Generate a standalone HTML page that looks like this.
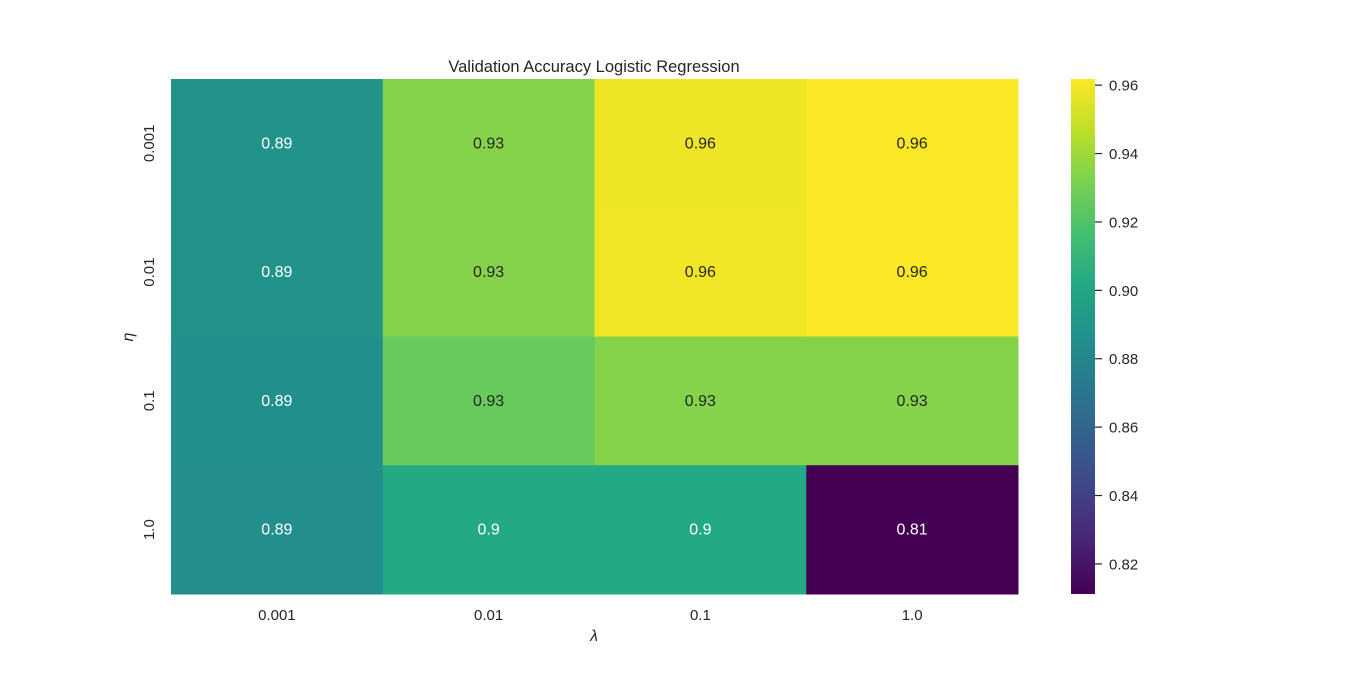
<!DOCTYPE html>
<html><head><meta charset="utf-8"><style>
body{margin:0;background:#fff;}
svg text{font-family:"Liberation Sans",sans-serif;fill:#262626;}
</style></head><body>
<svg id="chart" width="1366" height="669" xmlns="http://www.w3.org/2000/svg">
<defs><linearGradient id="vir" x1="0" y1="1" x2="0" y2="0"></linearGradient></defs>
<text x="594" y="72" text-anchor="middle" font-size="16.5">Validation Accuracy Logistic Regression</text>
<g id="cells"></g><g id="xt"></g><g id="yt"></g><g id="cb"></g>
<text x="594" y="641" text-anchor="middle" font-size="16" font-style="italic">λ</text>
<text x="0" y="0" transform="translate(133,337) rotate(-90)" text-anchor="middle" font-size="16" font-style="italic">η</text>
</svg>
<script>
const xLabels=["0.001","0.01","0.1","1.0"];
const yLabels=["0.001","0.01","0.1","1.0"];
const row0=[0.888,0.934,0.958,0.961];
const row1=[0.888,0.934,0.959,0.961];
const row2=[0.886,0.926,0.934,0.934];
const row3=[0.885,0.902,0.902,0.811];
const cbTicks=[0.82,0.84,0.86,0.88,0.90,0.92,0.94,0.96];
const rows=[row0,row1,row2,row3];
const vmin=0.8112,vmax=0.9618;
const X0=171,X1=1018,Y0=79,Y1=594;
const cw=(X1-X0)/xLabels.length,ch=(Y1-Y0)/yLabels.length;
const stops=["#440154","#482475","#414487","#355f8d","#2a788e","#21918c","#22a884","#44bf70","#7ad151","#bddf26","#fde725"];
function hex(h){return[1,3,5].map(i=>parseInt(h.substr(i,2),16));}
function vir(t){t=Math.max(0,Math.min(1,t))*10;const i=Math.min(9,Math.floor(t)),f=t-i;const a=hex(stops[i]),b=hex(stops[i+1]);return a.map((v,k)=>Math.round(v+(b[k]-v)*f));}
function lum(c){const l=c.map(v=>{v/=255;return v<=0.03928?v/12.92:Math.pow((v+0.055)/1.055,2.4)});return 0.2126*l[0]+0.7152*l[1]+0.0722*l[2];}
function fmt(v){return String(parseFloat(v.toPrecision(2)));}
const NS="http://www.w3.org/2000/svg";
function mk(tag,attrs,parent){const e=document.createElementNS(NS,tag);for(const k in attrs)e.setAttribute(k,attrs[k]);parent.appendChild(e);return e;}
const cells=document.getElementById('cells');
rows.forEach((r,ri)=>r.forEach((v,ci)=>{
 const c=vir((v-vmin)/(vmax-vmin));
 const rect=mk('rect',{x:X0+ci*cw,y:Y0+ri*ch,width:cw+0.5,height:ch+0.5,fill:`rgb(${c})`},cells);
 
 
 const t=mk('text',{x:X0+(ci+.5)*cw,y:Y0+(ri+.5)*ch+5,'text-anchor':'middle','font-size':16},cells);
 t.style.fill=lum(c)>0.408?'#262626':'#ffffff';
 t.textContent=fmt(v);
 
 
}));
const xt=document.getElementById('xt');
xLabels.forEach((l,i)=>{const t=mk('text',{x:X0+(i+.5)*cw,y:620,'text-anchor':'middle','font-size':15},xt);t.textContent=l;
 
 });
const yt=document.getElementById('yt');
yLabels.forEach((l,i)=>{const y=Y0+(i+.5)*ch;const t=mk('text',{x:0,y:0,transform:`translate(154,${y}) rotate(-90)`,'text-anchor':'middle','font-size':15},yt);t.textContent=l;
 
 });
const g=document.getElementById('vir');
stops.forEach((s,i)=>mk('stop',{offset:i/10,'stop-color':s},g));
const cb=document.getElementById('cb');
const bar=mk('rect',{x:1071,y:Y0,width:24,height:Y1-Y0,fill:'url(#vir)'},cb);


cbTicks.forEach(v=>{const y=Y1-(v-vmin)/(vmax-vmin)*(Y1-Y0);
 mk('line',{x1:1095,x2:1102,y1:y,y2:y,stroke:'#262626','stroke-width':1.2},cb);
 const t=mk('text',{x:1109,y:y+5.5,'font-size':15},cb);t.textContent=v.toFixed(2);
 
 });
</script>
</body></html>
